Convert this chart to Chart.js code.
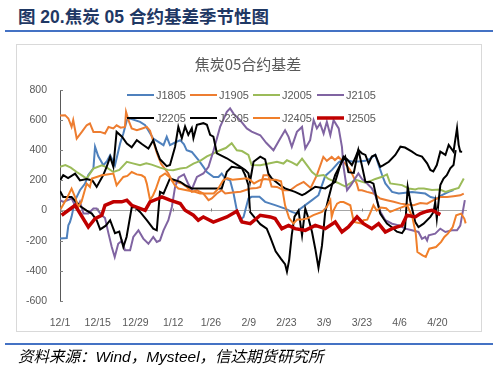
<!DOCTYPE html>
<html>
<head>
<meta charset="utf-8">
<script src="https://cdn.jsdelivr.net/npm/chart.js@4.4.0/dist/chart.umd.min.js"></script>
<style>
  body { margin: 0; width: 498px; height: 371px; background: #fff; position: relative; overflow: hidden; }
  .hdr { position: absolute; left: 18px; top: 3px; font: bold 17.5px "Liberation Sans", "Noto Sans CJK SC", sans-serif; color: #1f3864; white-space: nowrap; }
  .rule { position: absolute; left: 5px; width: 488px; height: 2px; background: #4472c4; }
  .frame { position: absolute; left: 16px; top: 44px; width: 466px; height: 288px; box-sizing: border-box; border: 1px solid #d9d9d9; pointer-events: none; }
  #basis { position: absolute; left: 16px; top: 44px; }
  .src { position: absolute; left: 18px; top: 344px; font: italic 15.5px "Liberation Sans", "Noto Sans CJK SC", sans-serif; color: #000; white-space: nowrap; }
</style>
</head>
<body>
<div class="hdr">图 20.焦炭 05 合约基差季节性图</div>
<div class="rule" style="top:30px"></div>
<canvas id="basis" width="466" height="288"></canvas>
<div class="frame"></div>
<div class="rule" style="top:343px"></div>
<div class="src">资料来源：Wind，Mysteel，信达期货研究所</div>
<script>
(function () {
    // x = days since 12/1, y = basis
    const dateTicks = ['12/1', '12/15', '12/29', '1/12', '1/26', '2/9', '2/23', '3/9', '3/23', '4/6', '4/20']
    const chartTitle = '焦炭05合约基差'
    const names = ['J1805', 'J1905', 'J2005', 'J2105', 'J2205', 'J2305', 'J2405', 'J2505']

    const j1805 = [[0,-186],[2.5,-182],[3.1,-98],[3.7,-76],[4.3,-40],[5.6,68],[7.4,135],[9.3,179],[10.5,236],[12.4,280],[13,424],[14.2,360],[16.1,301],[17.5,330],[18.6,367],[20.4,301],[22.3,445],[23.5,511],[24.8,600],[26,611],[29.7,589],[31.6,567],[34.6,478],[36.5,456],[38.4,434],[39.6,489],[40.8,434],[42.5,450],[44.6,467],[46,440],[47,400],[48.9,389],[51.4,334],[53.2,290],[54.5,256],[57,223],[58.8,223],[60,246],[61.3,212],[63.1,201],[64.4,113],[65.6,2],[66.8,-64],[68.1,-42],[69.9,80],[71.1,91],[74,91],[76.1,58],[79.8,36],[83.5,13],[86,-9],[87.9,-20],[89.2,13],[91,36],[93.5,69],[95.9,102],[97.2,169],[98.4,230],[100.9,270],[103.4,320],[105.2,340],[108.3,325],[110.7,325],[113.3,330],[115.1,345],[117,370],[118.2,302],[119.5,236],[120.7,180],[123.2,124],[125.7,113],[130.6,124],[135.5,113],[137.5,90],[139.8,80],[141.7,102],[144.2,124],[146,136]]
    const j1905 = [[0,630],[1.9,633],[3.1,611],[4.3,555],[4.9,600],[6.2,478],[8.1,522],[9.9,566],[11.1,578],[12.4,522],[14.9,522],[16.7,511],[18,555],[19.8,545],[21,566],[22.5,550],[24.1,555],[24.5,655],[25.4,600],[26.6,545],[28.5,533],[30.5,545],[32.2,555],[33.4,530],[34.6,460],[36,380],[37.5,310],[39,275],[40.2,246],[41.5,202],[43.3,190],[45.2,180],[47,157],[48.9,124],[50.8,135],[53.2,113],[55.1,69],[56.3,80],[58.2,113],[60,135],[61.3,113],[64,120],[67,125],[70.6,146],[73,150],[74.3,157],[75.5,235],[77.3,235],[78.5,160],[80.5,157],[83,135],[85.4,135],[87.9,168],[90.4,190],[93,150],[95.3,235],[97.7,356],[99,330],[100.8,356],[102,335],[103.3,356],[105.8,312],[107.7,268],[110.1,179],[110.8,135],[112,135],[113.9,124],[116.3,113],[118.8,80],[121.3,69],[123.8,58],[126.3,46],[128.8,40],[131.2,35],[133.7,50],[136.2,46],[138.6,69],[141.1,90],[143.6,90],[146,95],[148.5,101],[149.8,113]]
    const j2005 = [[0,290],[2,302],[4,285],[6.2,256],[8.1,234],[9.9,212],[12.4,279],[15.5,301],[17,290],[19.8,256],[22,270],[24.8,323],[27,313],[29.7,301],[32,313],[34,305],[37.1,285],[40,270],[42,268],[44.6,279],[47,285],[49.5,312],[52,330],[54.5,360],[57,380],[59.4,400],[61.5,415],[63.7,447],[65.6,400],[67.5,395],[69.9,369],[71.1,302],[74.3,301],[77,310],[80.5,323],[82.9,312],[84.2,334],[86,320],[87.9,301],[89.8,345],[91.6,301],[93.5,256],[95.3,230],[97.8,236],[99.6,210],[101.5,195],[103,185],[104.6,170],[105.8,160],[107.6,180],[108.8,195],[110,202],[113.3,185],[115.7,200],[117,210],[119.5,224],[121.3,240],[122.5,180],[126.9,169],[129.4,147],[131.8,140],[133,147],[135,147],[138,136],[141,140],[143,124],[145,135],[147.9,150],[149.8,213]]
    const j2105 = [[0,70],[1.2,58],[4.3,80],[6.2,13],[7.4,58],[8.7,-20],[10.5,-20],[12.4,13],[13.6,13],[15.5,-31],[16.7,-50],[18,-153],[19.2,-242],[20.3,-308],[21.6,-220],[23,-200],[24.1,-264],[26,-264],[27.2,-175],[29.1,-131],[30.9,-186],[32.8,-220],[34.6,-175],[35.9,-208],[37.1,-198],[38.4,-131],[40.2,-64],[41.5,24],[42.7,157],[44,220],[46,240],[47.5,180],[48.9,140],[50.8,223],[53.2,246],[55.1,290],[57,400],[59.4,555],[61.9,655],[63.1,678],[64.5,640],[66.8,600],[69.3,545],[71.1,524],[74.3,500],[76.5,450],[79.2,400],[81.7,478],[83.5,533],[84.8,489],[86,423],[87.9,522],[89.8,555],[91,412],[92.8,467],[94.1,600],[95.3,545],[96.5,578],[97.8,511],[99,589],[100.3,500],[101.5,600],[103.4,545],[104.6,423],[105.2,290],[106.5,135],[108,170],[109.5,213],[110.7,247],[112,210],[113.3,191],[115.7,147],[117,102],[118.9,-9],[120.7,-64],[123.2,-87],[125.7,-98],[128.1,-120],[130.6,-131],[133,-142],[134.3,-187],[135.5,-175],[136.2,-198],[136.8,-164],[139.2,-153],[141.1,-120],[143,-142],[145.4,-131],[147.3,-131],[148.5,-100],[149.2,-31],[150.2,69]]
    const j2205 = [[0,200],[1.2,235],[3,215],[5.6,245],[7.4,200],[9.9,210],[12,200],[13.6,157],[16,234],[17.3,290],[18.6,356],[19.8,290],[21,522],[23,490],[24.8,445],[26.6,420],[28.5,467],[30.5,440],[32.8,412],[34.6,467],[35.8,400],[37.1,340],[39.6,295],[40.8,302],[42.7,424],[43.9,555],[45.2,480],[46.4,558],[47.6,502],[48.9,547],[49.5,480],[50.8,569],[53.2,580],[54.5,569],[55.7,502],[56.9,491],[58.2,380],[61.9,347],[66.8,291],[68.7,269],[69.9,247],[70.5,191],[71.8,324],[74.3,358],[76.1,340],[77.3,246],[78.6,212],[81.7,168],[83.5,147],[87.2,124],[89.8,102],[91,113],[94.7,158],[98.4,147],[102.1,191],[104,302],[105.2,358],[106.5,340],[108.3,302],[109.5,347],[110.7,402],[112,380],[113.3,369],[114.5,312],[115.7,358],[117,369],[118.8,290],[120,302],[122,324],[124.4,369],[126.3,424],[128,418],[130.6,391],[132.4,369],[134.3,358],[136.2,313],[137.4,269],[138.5,260],[139.8,302],[141.1,391],[143,369],[144.2,436],[146,391],[147.3,547],[147.9,436],[148.5,391],[149.2,390]]
    const j2305 = [[0,130],[1.2,90],[4.3,90],[7.4,30],[9.9,0],[11.8,-20],[13.6,-64],[14.9,-125],[17,-100],[18.6,-64],[20.4,-150],[22,-140],[23.5,-242],[24.7,-175],[26.6,20],[27.8,24],[29.7,-9],[32.2,-64],[34.6,-120],[35.9,-131],[37.1,124],[38.4,113],[40.8,213],[42.7,202],[44.6,191],[46.4,169],[48.9,147],[60,147],[61.9,258],[63.7,291],[67.5,280],[68.7,235],[69.9,169],[70.5,-9],[72.4,-50],[74.3,-90],[76.7,-120],[78,-176],[80,-270],[82,-320],[83.5,-355],[84.2,-405],[85,-330],[86,-160],[87,-40],[88.5,0],[89.8,-164],[91,13],[92.2,-53],[93.5,-142],[94.7,-253],[95.9,-380],[97.2,-231],[98.4,-9],[99.6,80],[100.9,169],[102.1,236],[104.6,324],[105.8,358],[107,255],[109,250],[110.7,402],[112,300],[113.3,191],[115,190],[116.3,179],[117.6,69],[118.8,-20],[120,-53],[121.3,-86],[123,-109],[125,-140],[126.9,-150],[128,-120],[129,157],[130,60],[131.8,-76],[133,-109],[134.9,-87],[137.4,-42],[138.6,-9],[139.2,57],[139.8,-53],[141.1,169],[142.3,213],[143.5,235],[144.8,280],[146,302],[146.8,401]]
    const j2405 = [[0,2],[2.5,80],[4.3,146],[5.6,90],[6.8,24],[8,60],[9.9,179],[11.1,157],[11.8,213],[13.6,223],[15.5,234],[17.5,240],[19.8,246],[21,168],[22,190],[23.5,223],[25,230],[26.6,256],[28.5,240],[30.3,234],[31.5,220],[32.2,179],[33.4,70],[34.5,100],[35.5,140],[37.1,224],[39,246],[40.8,220],[42.5,170],[43.9,146],[47,135],[50,125],[52,113],[57,113],[58.5,140],[60.5,200],[62,215],[64,205],[66.8,210],[69.3,215],[70.6,202],[72,180],[74,200],[76,210],[78,205],[80,205],[82,195],[83.5,35],[85,-50],[86.6,-86],[88,-60],[89.5,-60],[91.6,-53],[94,-30],[97.2,-9],[99,24],[100.3,68],[100.8,-42],[101.5,2],[102.8,46],[104,57],[105.2,57],[107.7,35],[109,-75],[112,-86],[112.6,-64],[114,-60],[115,-20],[116.3,35],[117.5,0],[119,20],[121,15],[122.5,-9],[125,10],[128.8,35],[130.7,-42],[132,-153],[132.6,-275],[134.5,-297],[135.7,-308],[137,-253],[139.5,-242],[141.4,-208],[142.6,-175],[143.9,-153],[145.7,-109],[147,-31],[148.8,-20],[150,-53],[150.5,-85]]
    const j2505 = [[0.6,-31],[5.6,35],[10.5,-109],[13,-53],[15.5,-31],[16.7,35],[19.8,58],[22.9,58],[24.8,69],[26.6,35],[31.6,2],[33.4,58],[36.5,80],[37.8,91],[40.8,69],[44.6,47],[46.4,2],[49.5,-31],[51.3,-64],[53.2,-42],[56.9,-76],[61.9,-42],[65.6,-4],[67.5,-76],[70.6,-87],[74.3,-31],[78,-42],[79.8,-53],[82.3,-120],[84.8,-98],[87.2,-120],[91,-131],[94.7,-98],[98.4,-120],[102.1,-76],[104.6,-142],[107,-109],[110.2,-42],[112.6,-87],[115.7,-120],[118.2,-87],[120.7,-142],[123.2,-120],[126.9,-98],[128.7,-31],[131.8,-42],[133.7,-20],[136.2,-4],[138,2],[139.3,-9],[141.1,-27]]

    const seriesData = [j1805, j1905, j2005, j2105, j2205, j2305, j2405, j2505]
    const colors = ['#4f81bd', '#ed7d31', '#9bbb59', '#8064a2', '#000000', '#000000', '#f07f2a', '#c00000']
    const widths = [2, 2, 2, 2, 2, 2, 2, 3.5]

    const grey = '#595959'
    const tickFont = { family: '"Liberation Sans", Arial, sans-serif', size: 10.5 }

    const decor = {
        id: 'decor',
        afterDraw(chart) {
            const { ctx, scales: { x, y }, chartArea: a } = chart
            ctx.save()

            ctx.fillStyle = grey
            ctx.font = '15px "Noto Sans CJK SC", sans-serif'
            ctx.textAlign = 'center'
            ctx.textBaseline = 'middle'
            ctx.fillText(chartTitle, 232, 20)

            // small inside tick marks
            ctx.strokeStyle = '#808080'
            ctx.lineWidth = 1
            const y0 = Math.round(y.getPixelForValue(0)) + 0.5
            x.ticks.forEach(t => {
                const px = Math.round(x.getPixelForValue(t.value)) + 0.5
                ctx.beginPath(); ctx.moveTo(px, y0 - 3); ctx.lineTo(px, y0); ctx.stroke()
            })
            y.ticks.forEach(t => {
                const py = Math.round(y.getPixelForValue(t.value)) + 0.5
                ctx.beginPath(); ctx.moveTo(a.left, py); ctx.lineTo(a.left + 3, py); ctx.stroke()
            })

            // legend, two rows of four
            const cols = [111, 174, 237, 301]
            const rows = [51, 74]
            ctx.font = '11px "Liberation Sans", Arial, sans-serif'
            ctx.textAlign = 'left'
            names.forEach((n, i) => {
                const lx = cols[i % 4], ly = rows[Math.floor(i / 4)]
                ctx.strokeStyle = colors[i]
                ctx.lineWidth = widths[i]
                ctx.beginPath(); ctx.moveTo(lx, ly); ctx.lineTo(lx + 27, ly); ctx.stroke()
                ctx.fillStyle = grey
                ctx.fillText(n, lx + 29, ly + 0.5)
            })
            ctx.restore()
        }
    }

    new Chart(document.getElementById('basis'), {
        type: 'line',
        data: {
            datasets: names.map((n, i) => ({
                label: n,
                data: seriesData[i],
                borderColor: colors[i],
                backgroundColor: colors[i],
                borderWidth: widths[i],
                pointRadius: 0,
                tension: 0,
                fill: false,
                order: names.length - i
            }))
        },
        options: {
            responsive: false,
            animation: false,
            layout: { padding: { top: 46, right: 15, bottom: 0, left: 0 } },
            plugins: { legend: { display: false }, tooltip: { enabled: false } },
            scales: {
                x: {
                    type: 'linear',
                    min: 0,
                    max: 151,
                    afterFit: s => { s.height = 31 },
                    afterBuildTicks: s => { s.ticks = dateTicks.map((d, k) => ({ value: k * 14 })) },
                    ticks: { callback: v => dateTicks[v / 14], color: grey, font: tickFont, padding: 8, maxRotation: 0, autoSkip: false },
                    grid: { display: false },
                    border: { display: false }
                },
                y: {
                    min: -600,
                    max: 800,
                    afterFit: s => { s.width = 44 },
                    ticks: { stepSize: 200, color: grey, font: tickFont, padding: 13 },
                    grid: { color: c => (c.tick && c.tick.value === 0 ? '#a6a6a6' : 'rgba(0,0,0,0)'), drawTicks: false },
                    border: { color: grey }
                }
            }
        },
        plugins: [decor]
    })
})();
</script>
</body>
</html>
